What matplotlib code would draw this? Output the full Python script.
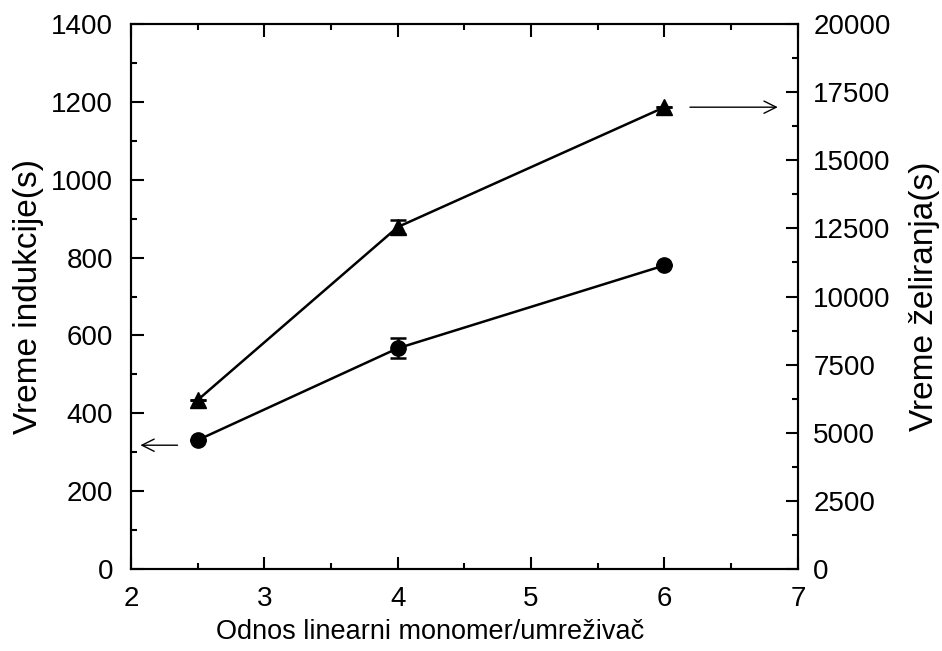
import numpy as np
import matplotlib.pyplot as plt
from matplotlib.ticker import MultipleLocator

plt.rcParams['font.family'] = ['Liberation Sans', 'DejaVu Sans']

# data
ratio = [2.5, 4, 6]
t_ind = [331, 567, 780]        # left axis, s
t_ind_err = [0, 26, 0]
t_gel = [6200, 12550, 16950]   # right axis, s
t_gel_err = [0, 250, 0]

fig = plt.figure(figsize=(9.42, 6.51), dpi=100)
ax = fig.add_axes([0.139, 0.126, 0.708, 0.837])
ax2 = ax.twinx()

ax.errorbar(ratio, t_ind, yerr=t_ind_err, color='black', lw=1.8, marker='o',
            ms=11, capsize=6, elinewidth=1.8, capthick=1.8)
ax2.errorbar(ratio, t_gel, yerr=t_gel_err, color='black', lw=1.8, marker='^',
             ms=12, capsize=6, elinewidth=1.8, capthick=1.8)

ax.set_xlim(2, 7)
ax.set_ylim(0, 1400)
ax2.set_ylim(0, 20000)

ax.xaxis.set_major_locator(MultipleLocator(1))
ax.xaxis.set_minor_locator(MultipleLocator(0.5))
ax.yaxis.set_major_locator(MultipleLocator(200))
ax.yaxis.set_minor_locator(MultipleLocator(100))
ax2.yaxis.set_major_locator(MultipleLocator(2500))
ax2.yaxis.set_minor_locator(MultipleLocator(1250))

ax.tick_params(which='both', direction='in', top=True, width=1.5, labelsize=20)
ax.tick_params(axis='y', pad=13)
ax.tick_params(axis='x', pad=12)
ax.tick_params(which='major', length=9)
ax.tick_params(which='minor', length=4.5)
ax2.tick_params(which='both', direction='in', width=1.5, labelsize=20, pad=11)
ax2.tick_params(which='major', length=9)
ax2.tick_params(which='minor', length=4.5)

for a in (ax, ax2):
    for s in a.spines.values():
        s.set_linewidth(1.5)

ax.set_xlabel('Odnos linearni monomer/umreživač', fontsize=19.5, va='center')
ax.set_ylabel('Vreme indukcije(s)', fontsize=24, va='center')
ax2.set_ylabel('Vreme želiranja(s)', fontsize=24, va='center')
ax.xaxis.set_label_coords(0.448, -0.115)
ax.yaxis.set_label_coords(-0.154, 0.5)
ax2.yaxis.set_label_coords(1.19, 0.5)

# arrows pointing to the matching axis
ax.annotate('', xy=(2.05, 318), xytext=(2.37, 318),
            arrowprops=dict(arrowstyle='->', lw=1, color='black', mutation_scale=22))
ax2.annotate('', xy=(6.87, 16950), xytext=(6.17, 16950),
             arrowprops=dict(arrowstyle='->', lw=1, color='black', mutation_scale=22))

fig.savefig('out.png', dpi=100)
